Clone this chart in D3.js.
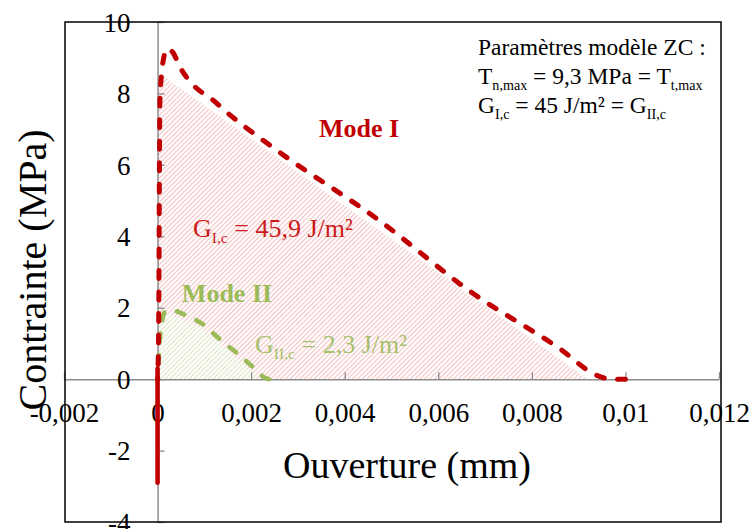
<!DOCTYPE html>
<html><head><meta charset="utf-8">
<script src="https://cdn.jsdelivr.net/npm/d3@7"></script>
<style>
html,body{margin:0;padding:0;background:#fff;}
svg{display:block;}
svg text{font-family:"Liberation Serif","Tinos","Times New Roman","DejaVu Serif","Noto Serif",serif !important;}
</style></head>
<body>
<svg id="chart" width="750" height="529"></svg>
<script>
// ---------- data ----------
const xTicks = [-0.002, 0, 0.002, 0.004, 0.006, 0.008, 0.01, 0.012];
const xTickLabels = ["-0,002", "0", "0,002", "0,004", "0,006", "0,008", "0,01", "0,012"];
const yTicks = [-4, -2, 0, 2, 4, 6, 8, 10];
const yTickLabels = ["-4", "-2", "0", "2", "4", "6", "8", "10"];

// Mode I (red, dashed)
const modeIx = [0, 0.00002, 0.00003, 0.00004, 0.00005, 0.00009, 0.00014, 0.0002, 0.00032, 0.00049, 0.00079, 0.00116, 0.0015, 0.0026, 0.0047, 0.0067, 0.0086, 0.0094, 0.0097, 0.0100];
const modeIy = [0, 1.0, 3.0, 6.0, 7.8, 8.6, 9.05, 9.25, 9.16, 8.71, 8.2, 7.84, 7.45, 6.36, 4.48, 2.44, 0.85, 0.1, 0, 0];
// Mode I compression part (red, solid)
const compIx = [0, 0];
const compIy = [-2.9, 0.3];
// Mode II (green, dashed)
const modeIIx = [0, 0.00004, 0.00009, 0.00017, 0.0003, 0.0006, 0.001, 0.0013, 0.00165, 0.00197, 0.00231, 0.00238];
const modeIIy = [0, 0.95, 1.6, 1.9, 1.93, 1.79, 1.51, 1.15, 0.78, 0.42, 0.03, 0];
// hatched energy areas
const areaIx = [0, 0, 0.0092];
const areaIy = [0, 8.6, 0];
const areaIIx = [0, 0, 0.0003, 0.001, 0.0022];
const areaIIy = [0, 1.8, 1.8, 1.38, 0];

// ---------- layout ----------
const svg = d3.select("#chart");
const L = 64, R = 719, T = 22, B = 522;
const x = d3.scaleLinear().domain([-0.002, 0.012]).range([L, R]);
const y = d3.scaleLinear().domain([-4, 10]).range([B, T]);

const red = "#c00000", green = "#9bbb59";

const defs = svg.append("defs");
function hatch(id, color) {
  const p = defs.append("pattern").attr("id", id).attr("patternUnits", "userSpaceOnUse")
    .attr("width", 3.4).attr("height", 8).attr("patternTransform", "rotate(45)");
  p.append("line").attr("x1", 0.6).attr("y1", 0).attr("x2", 0.6).attr("y2", 8)
    .attr("stroke", color).attr("stroke-width", 0.9);
}
hatch("hatchRed", "#f3b4b4");
hatch("hatchGreen", "#d3e1b4");

const zip = (xs, ys) => xs.map((v, i) => [v, ys[i]]);
const poly = d3.line().x(d => x(d[0])).y(d => y(d[1]));

// hatched areas
svg.append("path").attr("d", poly(zip(areaIx, areaIy)) + "Z").attr("fill", "url(#hatchRed)");
svg.append("path").attr("d", poly(zip(areaIIx, areaIIy)) + "Z").attr("fill", "#fff");
svg.append("path").attr("d", poly(zip(areaIIx, areaIIy)) + "Z").attr("fill", "url(#hatchGreen)");

// axes
const xAxis = d3.axisBottom(x).tickValues(xTicks).tickFormat((d, i) => xTickLabels[i])
  .tickSizeInner(-7).tickSizeOuter(0).tickPadding(23);
const yAxis = d3.axisLeft(y).tickValues(yTicks).tickFormat((d, i) => yTickLabels[i])
  .tickSizeInner(-7).tickSizeOuter(0).tickPadding(27);

const gx = svg.append("g").attr("transform", `translate(0,${y(0)})`).call(xAxis);
const gy = svg.append("g").attr("transform", `translate(${x(0)},0)`).call(yAxis);
[gx, gy].forEach(g => {
  g.attr("font-family", null).attr("font-size", null);
  g.select(".domain").attr("stroke", "#8c8c8c").attr("stroke-width", 1.5);
  g.selectAll(".tick line").attr("stroke", "#8c8c8c").attr("stroke-width", 1.3);
  g.selectAll(".tick text").attr("fill", "#000").style("font-size", "27px");
});
gx.selectAll(".tick text").attr("dy", "0.72em");
gy.selectAll(".tick text").attr("dy", "0.34em");

// curves
const curve = d3.line().x(d => x(d[0])).y(d => y(d[1])).curve(d3.curveMonotoneX);
const dashOn = 8, dashOff = 13.5;
function dashed(xs, ys, color, w) {
  const p = svg.append("path").attr("d", curve(zip(xs, ys))).attr("fill", "none")
    .attr("stroke", color).attr("stroke-width", w).attr("stroke-linecap", "round")
    .attr("stroke-dasharray", dashOn + "," + dashOff);
  const len = p.node().getTotalLength();
  const per = dashOn + dashOff;
  const off = ((dashOn - (len % per)) % per + per) % per;
  p.attr("stroke-dashoffset", off);
  return p;
}
dashed(modeIIx, modeIIy, green, 4.6);
svg.append("path").attr("d", poly(zip(compIx, compIy))).attr("fill", "none")
  .attr("stroke", red).attr("stroke-width", 4.6).attr("stroke-linecap", "round");
dashed(modeIx, modeIy, red, 5);

// axis titles
svg.append("text").attr("x", 407).attr("y", 478).attr("text-anchor", "middle")
  .style("font-size", "38px").attr("fill", "#000").text("Ouverture (mm)");
svg.append("text").attr("transform", "translate(46,270) rotate(-90)").attr("text-anchor", "middle")
  .style("font-size", "40px").attr("fill", "#000").text("Contrainte (MPa)");

// annotations
function subText(xp, yp, parts, size, color, weight) {
  const t = svg.append("text").attr("x", xp).attr("y", yp).attr("fill", color)
    .style("font-size", size + "px").style("font-weight", weight || "normal");
  parts.forEach(p => {
    if (p.sub) {
      t.append("tspan").attr("dy", size * 0.24).style("font-size", (size * 0.6) + "px").text(p.t);
    } else {
      t.append("tspan").attr("dy", p.after ? -size * 0.24 : 0).text(p.t);
    }
  });
  return t;
}
svg.append("text").attr("x", 359).attr("y", 137).attr("text-anchor", "middle")
  .attr("fill", red).style("font-size", "26px").style("font-weight", "bold").text("Mode I");
svg.append("text").attr("x", 227).attr("y", 302).attr("text-anchor", "middle")
  .attr("fill", green).style("font-size", "26px").style("font-weight", "bold").text("Mode II");

subText(193, 237, [{t: "G"}, {t: "I,c", sub: true}, {t: " = 45,9 J/m²", after: true}], 26, "#cc1a1a");
subText(255, 353, [{t: "G"}, {t: "II,c", sub: true}, {t: " = 2,3 J/m²", after: true}], 26, "#a6c06c");

svg.append("text").attr("x", 478).attr("y", 55).attr("fill", "#000").style("font-size", "23.5px")
  .text("Paramètres modèle ZC :");
subText(478, 84, [{t: "T"}, {t: "n,max", sub: true}, {t: " = 9,3 MPa = T", after: true}, {t: "t,max", sub: true}], 23.5, "#000");
subText(478, 113, [{t: "G"}, {t: "I,c", sub: true}, {t: " = 45 J/m² = G", after: true}, {t: "II,c", sub: true}], 23.5, "#000");

// frame
svg.append("rect").attr("x", L + 1).attr("y", T).attr("width", R - L + 1).attr("height", B - T)
  .attr("fill", "none").attr("stroke", "#000").attr("stroke-width", 1.5);
</script>
</body></html>
